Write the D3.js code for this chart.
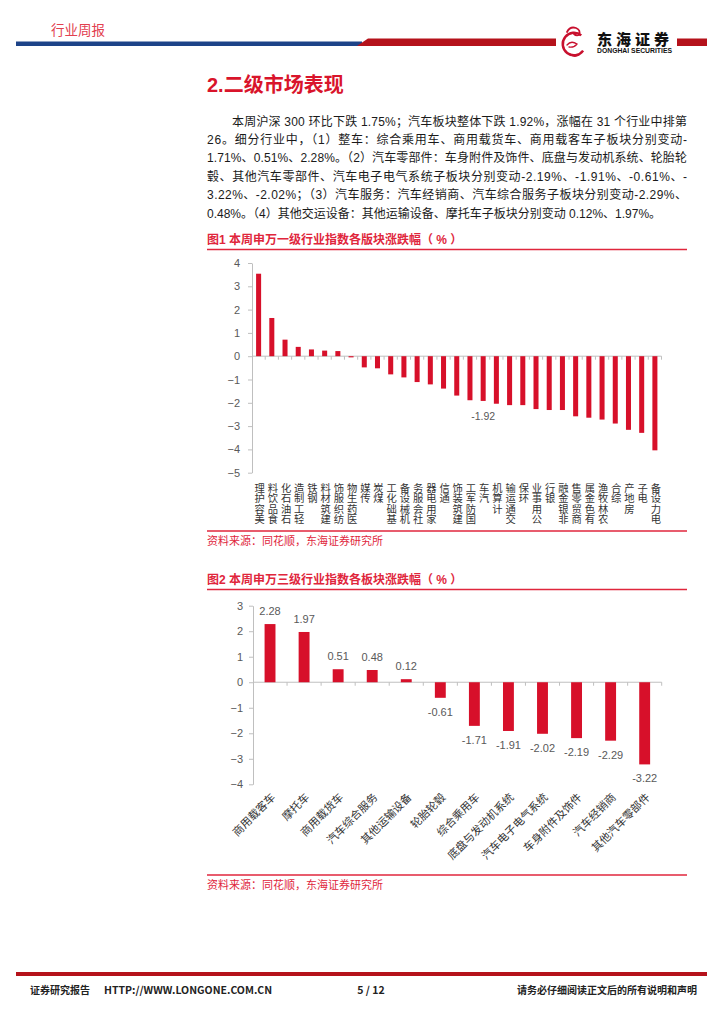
<!DOCTYPE html>
<html><head><meta charset="utf-8">
<script src="https://cdn.jsdelivr.net/npm/d3@7"></script>
<style>
html,body{margin:0;padding:0;background:#fff;}
svg{display:block;}
</style></head>
<body>
<svg id="page" width="724" height="1024"></svg>
<script>
// ---------- DATA ----------
const cats1 = ["美容护理","食品饮料","石油石化","轻工制造","钢铁","建筑材料","纺织服饰","医药生物","传媒","煤炭","基础化工","机械设备","社会服务","家用电器","通信","建筑装饰","国防军工","汽车","计算机","交通运输","环保","公用事业","银行","非银金融","商贸零售","有色金属","农林牧渔","综合","房地产","电子","电力设备"];
const vals1 = [3.54,1.64,0.71,0.40,0.29,0.24,0.22,-0.05,-0.48,-0.52,-0.78,-0.91,-1.11,-1.21,-1.39,-1.69,-1.89,-1.92,-2.04,-2.10,-2.10,-2.27,-2.31,-2.31,-2.58,-2.64,-2.72,-2.89,-3.16,-3.29,-4.04];
const ticks1 = [4,3,2,1,0,-1,-2,-3,-4,-5];
const highlight1 = "汽车";

const cats2 = ["商用载客车","摩托车","商用载货车","汽车综合服务","其他运输设备","轮胎轮毂","综合乘用车","底盘与发动机系统","汽车电子电气系统","车身附件及饰件","汽车经销商","其他汽车零部件"];
const vals2 = [2.28,1.97,0.51,0.48,0.12,-0.61,-1.71,-1.91,-2.02,-2.19,-2.29,-3.22];
const ticks2 = [3,2,1,0,-1,-2,-3,-4];

const paraLines = [
  "本周沪深 300 环比下跌 1.75%；汽车板块整体下跌 1.92%，涨幅在 31 个行业中排第",
  "26。细分行业中，（1）整车：综合乘用车、商用载货车、商用载客车子板块分别变动-",
  "1.71%、0.51%、2.28%。（2）汽车零部件：车身附件及饰件、底盘与发动机系统、轮胎轮",
  "毂、其他汽车零部件、汽车电子电气系统子板块分别变动-2.19%、-1.91%、-0.61%、-",
  "3.22%、-2.02%；（3）汽车服务：汽车经销商、汽车综合服务子板块分别变动-2.29%、",
  "0.48%。（4）其他交运设备：其他运输设备、摩托车子板块分别变动 0.12%、1.97%。"
];

// ---------- STYLE ----------
const RED = "#d7102a";
const TITLE_RED = "#e0263c";
const GRAY = "#595959";
const AXIS = "#bfbfbf";
const FONT = "'Liberation Sans','Noto Sans CJK SC',sans-serif";
const CJK = "'Noto Sans CJK SC',sans-serif";

const svg = d3.select("#page");
svg.append("rect").attr("width",724).attr("height",1024).attr("fill","#fff");

// ---------- HEADER ----------
svg.append("text").attr("x",51).attr("y",29).attr("dominant-baseline","central")
  .attr("font-family",CJK).attr("font-size",13.5)
  .attr("fill","#e2404f").text("行业周报");
svg.append("rect").attr("x",16).attr("y",41.5).attr("width",346).attr("height",4.5).attr("fill","#1d4388");
svg.append("polygon").attr("points","357,46 368,38.5 556,38.5 556,46").attr("fill","#b5121b");
svg.append("rect").attr("x",677).attr("y",38.5).attr("width",30).attr("height",7.5).attr("fill","#b5121b");
// logo (stylised dragon ring)
const logo = svg.append("g").attr("fill","none").attr("stroke","#c8102e").attr("stroke-linecap","round");
logo.append("path").attr("d", d3.arc()({innerRadius:10,outerRadius:12.5,startAngle:2.2,endAngle:Math.PI*2+0.7}))
  .attr("transform","translate(574,44)").attr("fill","#c8102e").attr("stroke","none");
logo.append("path").attr("d","M567,32 q3,-6 9,-4 q5,2 3,7 q-3,1 -5,-1").attr("stroke-width",1.8);
logo.append("path").attr("d","M567,45 q4,-5 10,-1 q-3,4 -8,3").attr("stroke-width",1.3);
logo.append("path").attr("d","M570,54 q4,4 9,1").attr("stroke-width",1.3);
svg.append("text").attr("x",597).attr("y",38).attr("dominant-baseline","central")
  .attr("font-family",CJK).attr("font-weight",900).attr("font-size",15)
  .attr("letter-spacing",4).attr("fill","#111").text("东海证券");
svg.append("text").attr("x",597).attr("y",50).attr("dominant-baseline","central")
  .attr("font-family","'Liberation Sans',sans-serif").attr("font-weight","bold").attr("font-size",6.6)
  .attr("fill","#111").attr("textLength",75).attr("lengthAdjust","spacingAndGlyphs").text("DONGHAI SECURITIES");

// ---------- HEADING & PARAGRAPH ----------
svg.append("text").attr("x",207).attr("y",85).attr("dominant-baseline","central")
  .attr("font-family",FONT).attr("font-weight","bold")
  .attr("font-size",20).attr("fill","#d9142b").text("2.二级市场表现");

paraLines.forEach((t,i)=>{
  const x0 = i===0 ? 232 : 207;
  const tx = svg.append("text").attr("x",x0).attr("y",121.5 + i*18.4).attr("dominant-baseline","central")
    .attr("font-family",FONT).attr("font-size",12).attr("fill","#1a1a1a").text(t);
  if (i < paraLines.length-1) tx.attr("textLength",687-x0).attr("lengthAdjust","spacing");
});

// ---------- FIGURE TITLES / SOURCES ----------
function figTitle(y, txt){
  svg.append("text").attr("x",207).attr("y",y).attr("dominant-baseline","central")
    .attr("font-family",FONT).attr("font-weight","bold").attr("font-size",12)
    .attr("fill",TITLE_RED).text(txt);
  svg.append("line").attr("x1",207).attr("x2",687).attr("y1",y+9.5).attr("y2",y+9.5)
    .attr("stroke",TITLE_RED).attr("stroke-width",1.3);
}
function source(y){
  svg.append("line").attr("x1",207).attr("x2",687).attr("y1",y).attr("y2",y)
    .attr("stroke",TITLE_RED).attr("stroke-width",1.3);
  svg.append("text").attr("x",207).attr("y",y+10).attr("dominant-baseline","central")
    .attr("font-family",FONT).attr("font-size",11).attr("fill",TITLE_RED)
    .text("资料来源：同花顺，东海证券研究所");
}
figTitle(240, "图1  本周申万一级行业指数各版块涨跌幅（ % ）");
source(531);
figTitle(580, "图2  本周申万三级行业指数各板块涨跌幅（ % ）");
source(875);

function styleAxis(g){
  g.select(".domain").attr("stroke",AXIS);
  g.selectAll(".tick line").attr("stroke",AXIS);
  g.selectAll(".tick text").attr("fill",GRAY).attr("font-family",FONT).attr("font-size",11);
}

// ---------- CHART 1 ----------
{
  const x = d3.scaleBand().domain(cats1).range([252,661.5]).paddingInner(0.62).paddingOuter(0.31);
  const y = d3.scaleLinear().domain([-5,4]).range([472.7,263]);
  const g = svg.append("g");
  const ya = g.append("g").attr("transform","translate(252,0)")
    .call(d3.axisLeft(y).tickValues(ticks1).tickSize(4).tickSizeOuter(0).tickPadding(8).tickFormat(d3.format("d")));
  styleAxis(ya);
  g.append("line").attr("x1",252).attr("x2",x.range()[1]).attr("y1",y(0)).attr("y2",y(0)).attr("stroke",AXIS);
  g.selectAll("line.xt").data(d3.range(1,cats1.length+1)).join("line").attr("class","xt")
    .attr("x1",d=>x.range()[0]+d*x.step()).attr("x2",d=>x.range()[0]+d*x.step())
    .attr("y1",y(0)).attr("y2",y(0)+3.5).attr("stroke",AXIS);
  g.selectAll("rect.bar").data(cats1).join("rect").attr("class","bar")
    .attr("x",d=>x(d)).attr("width",x.bandwidth())
    .attr("y",(d,i)=>y(Math.max(0,vals1[i])))
    .attr("height",(d,i)=>Math.abs(y(vals1[i])-y(0)))
    .attr("fill",RED);
  const hi = cats1.indexOf(highlight1);
  g.append("text").attr("x",x(highlight1)+x.bandwidth()/2).attr("y",y(vals1[hi])+15)
    .attr("text-anchor","middle").attr("dominant-baseline","central")
    .attr("font-family",FONT).attr("font-size",10.5).attr("fill",GRAY).text(vals1[hi].toFixed(2));
  // category labels: upright characters stacked, reading bottom to top, top-aligned under the axis
  cats1.forEach(c=>{
    const chars = Array.from(c).reverse();
    const t = g.append("text").attr("font-family",CJK).attr("font-size",10.3)
      .attr("fill","#333").attr("text-anchor","middle").attr("dominant-baseline","central");
    chars.forEach((ch,k)=>{
      t.append("tspan").attr("x",x(c)+x.bandwidth()/2+1).attr("y",487+k*10.3).text(ch);
    });
  });
}

// ---------- CHART 2 ----------
{
  const x = d3.scaleBand().domain(cats2).range([253,661.7]).paddingInner(0.68).paddingOuter(0.34);
  const y = d3.scaleLinear().domain([-4,3]).range([784.3,605.7]);
  const g = svg.append("g");
  const ya = g.append("g").attr("transform","translate(253,0)")
    .call(d3.axisLeft(y).tickValues(ticks2).tickSize(4).tickSizeOuter(0).tickPadding(6).tickFormat(d3.format("d")));
  styleAxis(ya);
  g.append("line").attr("x1",253).attr("x2",x.range()[1]).attr("y1",y(0)).attr("y2",y(0)).attr("stroke",AXIS);
  g.selectAll("line.xt").data(d3.range(1,cats2.length+1)).join("line").attr("class","xt")
    .attr("x1",d=>x.range()[0]+d*x.step()).attr("x2",d=>x.range()[0]+d*x.step())
    .attr("y1",y(0)).attr("y2",y(0)+3.5).attr("stroke",AXIS);
  g.selectAll("rect.bar").data(cats2).join("rect").attr("class","bar")
    .attr("x",d=>x(d)).attr("width",x.bandwidth())
    .attr("y",(d,i)=>y(Math.max(0,vals2[i])))
    .attr("height",(d,i)=>Math.abs(y(vals2[i])-y(0)))
    .attr("fill",RED);
  g.selectAll("text.val").data(cats2).join("text").attr("class","val")
    .attr("x",d=>x(d)+x.bandwidth()/2)
    .attr("y",(d,i)=>vals2[i]>=0 ? y(vals2[i])-13 : y(vals2[i])+14)
    .attr("text-anchor","middle").attr("dominant-baseline","central")
    .attr("font-family",FONT).attr("font-size",11).attr("fill",GRAY)
    .text((d,i)=>vals2[i].toFixed(2));
  g.selectAll("text.cat").data(cats2).join("text").attr("class","cat")
    .attr("transform",d=>`translate(${x(d)+x.bandwidth()/2+6},798) rotate(-45)`)
    .attr("text-anchor","end")
    .attr("font-family",CJK).attr("font-size",11).attr("fill","#333")
    .text(d=>d);
}

// ---------- FOOTER ----------
svg.append("rect").attr("x",16).attr("y",972).attr("width",691).attr("height",4).attr("fill","#b5121b");
const FF = "'Liberation Sans Narrow','Noto Sans CJK SC',sans-serif";
svg.append("text").attr("x",30).attr("y",989).attr("dominant-baseline","central").attr("font-family",FF)
  .attr("font-weight","bold").attr("font-size",10).attr("fill","#222").text("证券研究报告");
svg.append("text").attr("x",104).attr("y",989).attr("dominant-baseline","central").attr("font-family",FF)
  .attr("font-weight","bold").attr("font-size",10.5).attr("fill","#222").text("HTTP://WWW.LONGONE.COM.CN");
svg.append("text").attr("x",371).attr("y",989).attr("text-anchor","middle").attr("dominant-baseline","central").attr("font-family",FF)
  .attr("font-weight","bold").attr("font-size",10.5).attr("fill","#222").text("5 / 12");
svg.append("text").attr("x",697).attr("y",989).attr("text-anchor","end").attr("dominant-baseline","central").attr("font-family",FF)
  .attr("font-weight","bold").attr("font-size",10).attr("fill","#222").text("请务必仔细阅读正文后的所有说明和声明");
</script>
</body></html>
